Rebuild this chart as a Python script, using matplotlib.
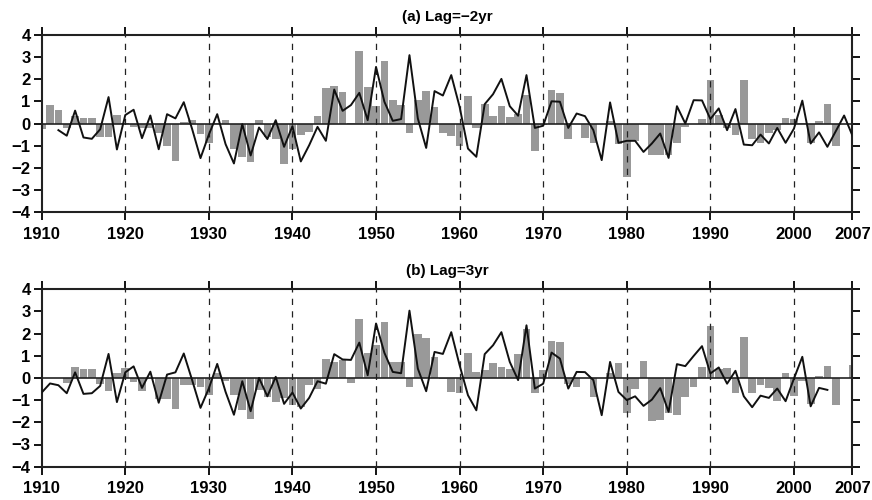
import numpy as np
import matplotlib
matplotlib.use("Agg")
import matplotlib.pyplot as plt

plt.rcParams["font.family"] = ["Liberation Sans", "DejaVu Sans"]
plt.rcParams["font.weight"] = "bold"

years = np.arange(1910, 2008)

# panel (a) Lag=-2yr : bars (1910-2007) and line (1912-2007)
bars_a = [
    -0.27, 0.82, 0.60, -0.20, 0.35, 0.26, 0.27, -0.60, -0.63, 0.40,      # 1910s
    0.03, -0.15, -0.22, -0.22, -0.45, -1.00, -1.70, 0.08, 0.18, -0.48,   # 1920s
    -0.86, 0.03, 0.15, -1.13, -1.50, -1.73, 0.18, -0.60, -0.68, -1.83,   # 1930s
    -1.17, -0.50, -0.38, 0.32, 1.60, 1.67, 1.41, 0.02, 3.26, 1.65,       # 1940s
    0.77, 2.82, 1.05, 0.83, -0.45, 1.08, 1.46, 0.75, -0.42, -0.57,       # 1950s
    -1.02, 1.22, -0.22, 0.87, 0.36, 0.78, 0.30, 0.45, 1.28, -1.23,       # 1960s
    -0.05, 1.53, 1.37, -0.68, 0.00, -0.65, -0.90, 0.00, 0.10, -0.93,     # 1970s
    -2.43, -0.80, 0.00, -1.40, -1.40, -1.40, -0.90, -0.18, 0.00, 0.22,   # 1980s
    1.95, 0.40, -0.20, -0.50, 1.94, -0.70, -0.90, -0.42, -0.30, 0.27,    # 1990s
    0.22, 0.03, -0.90, 0.12, 0.90, -1.02, 0.00, 0.00,                    # 2000s
]
line_a = [
    np.nan, np.nan, -0.30, -0.55, 0.58, -0.63, -0.69, -0.26, 1.19, -1.17,  # 1910s
    0.38, 0.62, -0.66, 0.36, -1.16, 0.42, 0.23, 0.96, -0.25, -1.56,        # 1920s
    -0.50, 0.42, -0.93, -1.80, -0.03, -1.44, -0.18, -0.70, 0.15, -1.05,    # 1930s
    -0.12, -1.71, -0.98, -0.15, -0.78, 1.53, 0.57, 0.83, 1.38, 0.15,       # 1940s
    2.55, 0.98, 0.12, 0.20, 3.08, 0.23, -1.10, 1.46, 1.26, 2.18,           # 1950s
    0.75, -1.13, -1.50, 0.87, 1.32, 2.01, 0.78, 0.35, 2.18, -0.20,         # 1960s
    -0.10, 1.00, 0.98, -0.20, 0.45, 0.33, -0.30, -1.65, 0.95, -0.87,       # 1970s
    -0.78, -0.78, -1.28, -0.90, -0.45, -1.55, 0.78, 0.00, 1.05, 1.04,      # 1980s
    0.20, 0.68, -0.30, 0.65, -0.95, -0.98, -0.50, -0.90, -0.20, -0.87,     # 1990s
    -0.23, 1.03, -0.90, -0.40, -1.05, -0.35, 0.36, -0.55,                  # 2000s
]

# panel (b) Lag=3yr : bars (1910-2007) and line (1910-2004)
bars_b = [
    0.00, 0.00, 0.00, -0.23, 0.50, 0.42, 0.42, -0.28, -0.58, 0.23,       # 1910s
    0.43, -0.20, -0.57, -0.03, -0.95, -0.95, -1.39, -0.32, -0.33, -0.39, # 1920s
    -0.78, 0.20, -0.15, -0.76, -1.46, -1.83, -0.56, -0.86, -1.08, -0.90, # 1930s
    -1.23, -1.30, -0.33, -0.48, 0.87, 0.72, 0.80, -0.21, 2.64, 1.11,     # 1940s
    1.50, 2.50, 0.72, 0.72, -0.42, 1.97, 1.79, 0.92, -0.04, -0.63,       # 1950s
    -0.66, 1.13, 0.27, 0.36, 0.66, 0.51, 0.42, 1.08, 2.19, -0.66,        # 1960s
    0.35, 1.65, 1.61, -0.26, -0.40, 0.00, -0.86, 0.00, 0.20, 0.69,       # 1970s
    -1.56, -0.48, 0.75, -1.92, -1.90, -1.58, -1.67, -0.86, -0.40, 0.48,  # 1980s
    2.34, 0.42, 0.44, -0.69, 1.82, -0.70, -0.33, -0.44, -1.05, 0.20,     # 1990s
    -0.81, -0.15, -1.17, 0.08, 0.53, -1.22, -0.02, 0.57,                 # 2000s
]
line_b = [
    -0.66, -0.25, -0.33, -0.69, 0.25, -0.72, -0.69, -0.36, 1.08, -1.09,    # 1910s
    0.25, 0.52, -0.45, 0.28, -1.12, 0.15, 0.25, 1.10, -0.10, -1.35,        # 1920s
    -0.47, 0.63, -0.63, -1.66, -0.15, -1.50, 0.00, -0.83, 0.05, -1.17,     # 1930s
    -0.66, -1.38, -0.90, -0.15, -0.26, 1.07, 0.83, 0.81, 1.59, 0.12,       # 1940s
    2.45, 1.13, 0.27, 0.21, 3.03, 0.42, -0.60, 1.17, 1.08, 2.06,           # 1950s
    0.57, -0.78, -1.46, 1.07, 1.47, 2.06, 0.72, -0.10, 2.37, -0.48,        # 1960s
    -0.26, 1.14, 0.87, -0.48, 0.27, 0.26, -0.10, -1.68, 0.72, -0.63,       # 1970s
    -1.00, -0.83, -1.26, -0.98, -0.46, -1.53, 0.62, 0.53, 0.99, 1.43,      # 1980s
    0.20, 0.47, -0.26, 0.32, -0.83, -1.32, -0.80, -0.90, -0.48, -1.05,     # 1990s
    -0.03, 0.95, -1.28, -0.45, -0.54, np.nan, np.nan, np.nan,              # 2000s
]

titles = ["(a) Lag=\u22122yr", "(b) Lag=3yr"]
xticks = [1910, 1920, 1930, 1940, 1950, 1960, 1970, 1980, 1990, 2000, 2007]
decades = [1920, 1930, 1940, 1950, 1960, 1970, 1980, 1990, 2000]

fig = plt.figure(figsize=(8.72, 5.0), dpi=100)
ax_a = fig.add_axes([0.0478, 0.5754, 0.9298, 0.3552])
ax_b = fig.add_axes([0.0478, 0.0666, 0.9298, 0.3552])

for ax, bars, line, title in [(ax_a, bars_a, line_a, titles[0]),
                              (ax_b, bars_b, line_b, titles[1])]:
    ax.bar(years, bars, width=0.92, color="#999999", edgecolor="none", zorder=1)
    ax.plot(years, line, color="#111111", lw=1.4, zorder=3)
    ax.axhline(0, color="#222222", lw=1.2, zorder=2)
    for d in decades:
        ax.axvline(d, color="#222222", lw=0.9, ls=(0, (5, 5)), zorder=2)
    ax.set_xlim(1910, 2007)
    ax.set_ylim(-4, 4)
    ax.set_xticks(xticks)
    ax.set_yticks(range(-4, 5))
    ax.tick_params(axis="both", direction="out", length=5.5, width=1.3,
                   labelsize=12, top=True, right=True, labelright=False,
                   labeltop=False)
    ax.tick_params(axis="x", pad=5)
    ax.tick_params(axis="y", pad=2.5)
    for lab in ax.get_xticklabels() + ax.get_yticklabels():
        lab.set_fontweight("bold")
    for s in ax.spines.values():
        s.set_linewidth(1.5)
        s.set_color("#222222")
    ax.set_title(title, fontsize=11, fontweight="bold", pad=10)

fig.savefig("out.png", dpi=100, facecolor="white")
